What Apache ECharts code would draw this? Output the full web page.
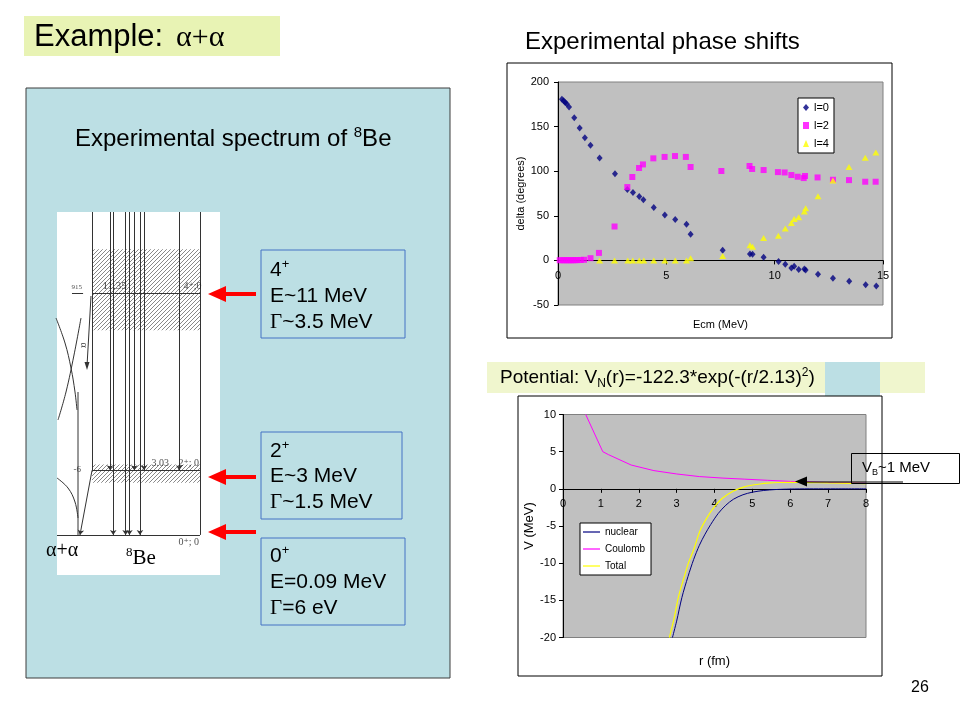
<!DOCTYPE html>
<html><head><meta charset="utf-8">
<script src="https://cdn.jsdelivr.net/npm/echarts@6/dist/echarts.min.js"></script>
<style>html,body{margin:0;padding:0;background:#fff}#c{width:960px;height:720px}</style>
</head><body><div id="c"></div>
<script>
// ---------------- DATA ----------------
// Experimental phase shifts (Ecm in MeV, delta in degrees)
const phaseXTicks = [0, 5, 10, 15];
const phaseYTicks = [-50, 0, 50, 100, 150, 200];
const phaseL0 = [[0.18,180.7],[0.26,179],[0.33,177],[0.40,175.5],[0.51,172],[0.75,160],[1.0,148.5],[1.24,137.6],[1.5,129],[1.92,114.8],[2.63,97.2],[3.2,79.5],[3.46,76],[3.75,71.7],[3.94,68],[4.42,59.3],[4.93,51],[5.41,45.8],[5.93,40.6],[6.12,29.4],[7.6,11.5],[8.86,7.3],[8.98,7],[9.49,3.6],[10.18,-1.3],[10.49,-4.3],[10.77,-8.4],[10.9,-6.6],[11.11,-10.3],[11.37,-9.6],[11.43,-10.7],[12.0,-15.5],[12.69,-20],[13.44,-23.4],[14.2,-27.2],[14.69,-28.7]];
const phaseL2 = [[0.08,0.2],[0.2,0.2],[0.3,0.2],[0.4,0.2],[0.5,0.2],[0.6,0.2],[0.7,0.2],[0.8,0.3],[0.9,0.3],[1.05,0.5],[1.2,0.7],[1.5,2.5],[1.89,8.4],[2.61,38],[3.2,82.2],[3.43,93.5],[3.74,103.6],[3.92,107.6],[4.4,114.4],[4.92,116],[5.4,117],[5.9,116],[6.12,104.7],[7.54,100.2],[8.84,105.8],[8.96,102.5],[9.49,101.3],[10.15,99],[10.46,98.6],[10.77,95.7],[11.06,93.8],[11.34,92.3],[11.4,94.6],[11.98,93],[12.69,90.4],[13.43,90],[14.18,88.2],[14.66,88.2]];
const phaseL4 = [[1.92,0],[2.61,0],[3.22,0],[3.45,0],[3.75,0],[3.96,0],[4.42,0],[4.93,0],[5.41,0],[5.93,0],[6.12,2.5],[7.6,5],[8.86,17],[8.98,15.2],[9.49,25],[10.17,27.5],[10.49,35.7],[10.77,41.8],[10.9,46.3],[11.11,48.5],[11.37,54.8],[11.43,58.6],[12.0,72],[12.69,89.7],[13.43,104.7],[14.18,115],[14.67,121]];

// Potential (r in fm, V in MeV)
const potXTicks = [0, 1, 2, 3, 4, 5, 6, 7, 8];
const potYTicks = [-20, -15, -10, -5, 0, 5, 10];
const potNuclear = [[2.89,-20],[3.0,-17.8],[3.14,-14.6],[3.3,-11.8],[3.45,-9.5],[3.6,-7.6],[3.75,-6.1],[3.9,-4.8],[4.1,-3.3],[4.3,-2.2],[4.5,-1.4],[4.75,-0.8],[5.0,-0.45],[5.3,-0.22],[5.6,-0.1],[6.0,-0.03],[6.5,0],[7.0,0],[8.0,0]];
const potCoulomb = [[0.6,10],[1.05,5.0],[1.2,4.6],[1.8,3.2],[2.4,2.45],[3.0,2.0],[3.6,1.65],[4.2,1.45],[4.8,1.3],[5.4,1.15],[6.0,1.0],[7.0,0.85],[8.0,0.75]];
const potTotal = [[2.81,-20],[2.93,-17.5],[3.05,-14.5],[3.18,-12.2],[3.31,-10],[3.45,-8.2],[3.62,-5.6],[3.8,-3.9],[3.97,-2.6],[4.2,-1.3],[4.5,-0.3],[4.75,0.2],[4.94,0.45],[5.2,0.65],[5.4,0.76],[5.7,0.85],[6.0,0.88],[6.5,0.84],[7.0,0.79],[7.6,0.74],[8.0,0.7]];

// 8Be level scheme (energies in MeV; horizontal positions are schematic units 0..100)
const levelEnergies = [0, 3.03, 11.35];
const levelSpins = ['0\u207A; 0', '2\u207A; 0', '4\u207A;0'];
const levelStartU = [0, 21.5, 21.5];
const levelEndU = 87.7;
const hatchBands = [[21.5, 9.6, 87.7, 13.4], [21.5, 2.45, 87.7, 3.3]];
const transToGroundU = [34.5, 42.1, 44.4, 50.9];
const transToFirstU = [32.5, 47.4, 53.4, 75.0];
const schemeTopE = 15.15;

// ---------------- STYLE ----------------
const FONT = "'Liberation Sans', Arial, sans-serif";
const SERIF = "'Liberation Serif', 'DejaVu Serif', 'Times New Roman', serif";
const PANEL = '#BCDFE4';

// hatch pattern
const hc = document.createElement('canvas');
hc.width = 4; hc.height = 4;
(function(){ const g = hc.getContext('2d'); g.strokeStyle = '#555'; g.lineWidth = 0.7;
  g.beginPath(); g.moveTo(-1,5); g.lineTo(5,-1); g.moveTo(-1,1); g.lineTo(1,-1); g.moveTo(3,5); g.lineTo(5,3); g.stroke(); })();
const hatch = { image: hc, repeat: 'repeat' };

// graphic helpers
function rect(x,y,w,h,fill,stroke,lw,z){ return {type:'rect', silent:true, z:z, shape:{x:x,y:y,width:w,height:h}, style:{fill:fill, stroke:stroke||null, lineWidth:lw||1}}; }
function text(x,y,t,size,opts){ const st = Object.assign({text:t, fill:'#000', fontSize:size, fontFamily:FONT, align:'left', textAlign:'left', verticalAlign:'middle', textVerticalAlign:'middle'}, opts||{}); return {type:'text', silent:true, z:(opts&&opts.zz)||10, x:x, y:y, style:st}; }
function rich(x,y,t,richObj,z){ return {type:'text', silent:true, z:z||10, x:x, y:y, style:{text:t, rich:richObj, fill:'#000', align:'left', textAlign:'left', verticalAlign:'middle', textVerticalAlign:'middle'}}; }
function line(x1,y1,x2,y2,color,w,z){ return {type:'line', silent:true, z:z||10, shape:{x1:x1,y1:y1,x2:x2,y2:y2}, style:{stroke:color, lineWidth:w||1}}; }
function poly(points,fill,z){ return {type:'polygon', silent:true, z:z||10, shape:{points:points}, style:{fill:fill}}; }
function pline(points,color,w,z){ return {type:'polyline', silent:true, z:z||10, shape:{points:points, smooth:0.4}, style:{stroke:color, lineWidth:w||1, fill:null}}; }

const supRich = function(size){ return {
  n:{fontSize:size, fontFamily:FONT, lineHeight:size+4, fill:'#000'},
  s:{fontSize:Math.round(size*0.62), fontFamily:FONT, lineHeight:Math.round(size*0.62), verticalAlign:'top', fill:'#000'},
  b:{fontSize:Math.round(size*0.62), fontFamily:FONT, lineHeight:Math.round(size*0.62), verticalAlign:'bottom', fill:'#000'},
  g:{fontSize:size, fontFamily:SERIF, lineHeight:size+4, fill:'#000'}
};};

const redArrowsY = [294, 477, 532];
const boxes = [
  {x:261, y:250, w:144, h:88, lines:['{n|4}{s|+}', '{n|E~11 MeV}', '{g|\u0393}{n|~3.5 MeV}'], ly:[270,296,322]},
  {x:261, y:432, w:141, h:87, lines:['{n|2}{s|+}', '{n|E~3 MeV}', '{g|\u0393}{n|~1.5 MeV}'], ly:[451,476,502]},
  {x:261, y:538, w:144, h:87, lines:['{n|0}{s|+}', '{n|E=0.09 MeV}', '{g|\u0393}{n|=6 eV}'], ly:[556,582,608]}
];

const els = [];
// header
els.push(rect(24,16,256,40,'#E8F3B4',null,1,-1));
els.push(text(34,37,'Example:',31,{zz:10}));
els.push(text(176,38,'\u03B1+\u03B1',30,{fontFamily:SERIF}));
els.push(text(525,42,'Experimental phase shifts',24));
// left panel
els.push(rect(26,88,424,590,PANEL,'#3c3c3c',1,-1));
els.push(rich(75,139,'{n|Experimental spectrum of }{s|8}{n|Be}',supRich(24)));
boxes.forEach(function(b){
  els.push(rect(b.x,b.y,b.w,b.h,PANEL,'#4472C4',1,5));
  b.lines.forEach(function(l,i){ els.push(rich(270,b.ly[i],l,supRich(21),10)); });
});
redArrowsY.forEach(function(y){
  els.push(line(222,y,256,y,'#FF0000',4,20));
  els.push(poly([[208,y],[226,y-8],[226,y+8]],'#FF0000',20));
});
// level scheme decorations (outside energy scale)
els.push(text(46,551,'\u03B1+\u03B1',20,{fontFamily:SERIF, zz:30}));
els.push(rich(126,558,'{s|8}{n|Be}',{n:{fontSize:21,fontFamily:SERIF,lineHeight:24,fill:'#000'}, s:{fontSize:13,fontFamily:SERIF,lineHeight:13,verticalAlign:'top',fill:'#000'}},30));
els.push({type:'text', silent:true, z:30, x:84, y:345, rotation:-Math.PI/2, style:{text:'\u03B1', fontSize:10, fontFamily:SERIF, fill:'#333', align:'center', textAlign:'center', verticalAlign:'middle', textVerticalAlign:'middle'}});
els.push(line(91,296,87,366,'#333',1,30));
els.push(poly([[87,370],[84.5,362],[89.5,362]],'#333',30));
els.push(pline([[56,318],[65,343],[71,368],[75,392],[77,410]],'#333',1,30));
els.push(pline([[81,318],[74,355],[66,392],[58,420]],'#333',1,30));
els.push(pline([[57,478],[68,488],[75,502],[78,518]],'#333',1,30));
els.push(line(78,392,78,535,'#333',1,30));
// phase-shift chart frame
els.push(rect(507,63,385,275,'#fff','#000',1,-1));
// potential header bar
els.push(rect(487,362,438,31,'#F0F6CE',null,1,-1));
els.push(rect(825,362,55,34,PANEL,null,1,-1));
els.push(rich(500,378,'{n|Potential: V}{b|N}{n|(r)=-122.3*exp(-(r/2.13)}{s|2}{n|)}',supRich(19)));
// potential chart frame
els.push(rect(518,396,364,280,'#fff','#000',1,-1));
// VB annotation
els.push(rect(851.5,453.5,108,30,null,'#000',1,100));
els.push(rich(862,468,'{n|V}{b|B}{n|~1 MeV}',supRich(15),100));
els.push(line(903,482,803,482,'#000',1,100));
els.push(poly([[795,481.5],[807,476.5],[807,486.5]],'#000',100));
// page number
els.push(text(911,688,'26',16));

// ---------------- CHART ----------------
const PH_H = 223, POT_H = 223;
// x axes sit on the y = 0 line: shift them up by the pixel height of the negative part of the y range
function zeroShift(yTicks, h){ const lo = yTicks[0], hi = yTicks[yTicks.length-1]; return -h * (0 - lo) / (hi - lo); }

const axisText = {color:'#000', fontSize:11, fontFamily:FONT};
function valAxis(grid, ticks, extra){
  return Object.assign({type:'value', gridIndex:grid, min:ticks[0], max:ticks[ticks.length-1], interval:ticks[1]-ticks[0],
    axisLine:{show:true, onZero:false, lineStyle:{color:'#000', width:1}},
    axisTick:{show:true, length:4, lineStyle:{color:'#000'}},
    splitLine:{show:false}, axisLabel:Object.assign({}, axisText)}, extra||{});
}

const option = {
  animation:false,
  backgroundColor:'#fff',
  textStyle:{fontFamily:FONT},
  grid:[
    {left:558, top:82, width:325, height:PH_H, show:true, backgroundColor:'#C0C0C0', borderColor:'#808080', borderWidth:1, outerBoundsMode:'none', containLabel:false},
    {left:563, top:414.5, width:303, height:POT_H, show:true, backgroundColor:'#C0C0C0', borderColor:'#808080', borderWidth:1, outerBoundsMode:'none', containLabel:false},
    {left:57, top:212, width:163, height:363, show:true, backgroundColor:'#fff', borderWidth:0, outerBoundsMode:'none', containLabel:false}
  ],
  xAxis:[
    valAxis(0, phaseXTicks, {position:'bottom', offset:zeroShift(phaseYTicks, PH_H), axisLabel:Object.assign({}, axisText, {margin:10}), name:'Ecm (MeV)', nameLocation:'middle', nameGap:59, nameTextStyle:{color:'#000', fontSize:11, fontFamily:FONT}}),
    valAxis(1, potXTicks, {position:'bottom', offset:zeroShift(potYTicks, POT_H), axisLabel:Object.assign({}, axisText, {margin:10}), name:'r (fm)', nameLocation:'middle', nameGap:166, nameTextStyle:{color:'#000', fontSize:13, fontFamily:FONT}}),
    {type:'value', gridIndex:2, min:0, max:100, show:false}
  ],
  yAxis:[
    valAxis(0, phaseYTicks, {axisLabel:Object.assign({}, axisText, {margin:9}), name:'delta (degrees)', nameLocation:'middle', nameGap:32, nameTextStyle:{color:'#000', fontSize:11, fontFamily:FONT}}),
    valAxis(1, potYTicks, {axisLabel:Object.assign({}, axisText, {margin:7}), name:'V (MeV)', nameLocation:'middle', nameGap:27, nameTextStyle:{color:'#000', fontSize:13, fontFamily:FONT}}),
    {type:'value', gridIndex:2, min:-1.88, max:15.15, show:false}
  ],
  legend:[
    {data:['l=0','l=2','l=4'], orient:'vertical', left:798, top:98, itemWidth:6, itemHeight:7, itemGap:7, padding:[4,5,4,5],
      backgroundColor:'#fff', borderColor:'#000', borderWidth:1, borderRadius:0, selectedMode:false, textStyle:{fontSize:11, color:'#000', fontFamily:FONT}},
    {data:[{name:'nuclear', icon:'rect'},{name:'Coulomb', icon:'rect'},{name:'Total', icon:'rect'}], orient:'vertical', left:580, top:523, itemWidth:17, itemHeight:1.2, itemGap:7, padding:[4,6,4,3],
      backgroundColor:'#fff', borderColor:'#000', borderWidth:1, borderRadius:0, selectedMode:false, textStyle:{fontSize:10, color:'#000', fontFamily:FONT}}
  ],
  series:[
    {name:'l=0', type:'scatter', xAxisIndex:0, yAxisIndex:0, data:phaseL0, symbol:'diamond', symbolSize:[6,7], itemStyle:{color:'#000080'}},
    {name:'l=2', type:'scatter', xAxisIndex:0, yAxisIndex:0, data:phaseL2, symbol:'rect', symbolSize:6, itemStyle:{color:'#FF00FF'}},
    {name:'l=4', type:'scatter', xAxisIndex:0, yAxisIndex:0, data:phaseL4, symbol:'triangle', symbolSize:[7,6], itemStyle:{color:'#FFFF00'}},
    {name:'nuclear', type:'line', xAxisIndex:1, yAxisIndex:1, data:potNuclear, symbol:'none', smooth:0.3, lineStyle:{color:'#000080', width:1}, itemStyle:{color:'#000080'}},
    {name:'Coulomb', type:'line', xAxisIndex:1, yAxisIndex:1, data:potCoulomb, symbol:'none', lineStyle:{color:'#FF00FF', width:1}, itemStyle:{color:'#FF00FF'}},
    {name:'Total', type:'line', xAxisIndex:1, yAxisIndex:1, data:potTotal, symbol:'none', smooth:0.3, lineStyle:{color:'#FFFF00', width:1.2}, itemStyle:{color:'#FFFF00'}},
    // level scheme
    {type:'line', xAxisIndex:2, yAxisIndex:2, data:[], silent:true,
      markArea:{silent:true, itemStyle:{color:hatch, borderWidth:0}, label:{show:false},
        data:hatchBands.map(function(b){ return [{xAxis:b[0], yAxis:b[1]}, {xAxis:b[2], yAxis:b[3]}]; })}},
    {type:'lines', coordinateSystem:'cartesian2d', xAxisIndex:2, yAxisIndex:2, silent:true, z:3,
      lineStyle:{color:'#333', width:1, opacity:1},
      data: levelEnergies.map(function(e,i){ return {coords:[[levelStartU[i], e],[levelEndU, e]]}; })
        .concat([{coords:[[9.2, levelEnergies[2]],[16, levelEnergies[2]]]},
                 {coords:[[levelEndU, schemeTopE],[levelEndU, 0]]},
                 {coords:[[levelStartU[1], schemeTopE],[levelStartU[1], levelEnergies[1]]]}])},
    {type:'lines', coordinateSystem:'cartesian2d', xAxisIndex:2, yAxisIndex:2, silent:true, z:3,
      symbol:['none','arrow'], symbolSize:5, lineStyle:{color:'#333', width:1, opacity:1},
      data: transToGroundU.map(function(u){ return {coords:[[u, schemeTopE],[u, levelEnergies[0]]]}; })
        .concat(transToFirstU.map(function(u){ return {coords:[[u, schemeTopE],[u, levelEnergies[1]]]}; }))
        .concat([{coords:[[levelStartU[1], levelEnergies[1]],[14.1, levelEnergies[0]]]}])},
    {type:'scatter', xAxisIndex:2, yAxisIndex:2, silent:true, symbolSize:1, itemStyle:{color:'rgba(0,0,0,0)'}, z:4,
      label:{show:true, formatter:'{b}', color:'#222', fontFamily:SERIF, fontSize:10},
      data:[
        {name:'915', value:[9.2, levelEnergies[2]], label:{position:[0,-9], fontSize:7}},
        {name:'11.35', value:[28.2, levelEnergies[2]], label:{position:[0,-12], fontSize:11}},
        {name:levelSpins[2], value:[77.9, levelEnergies[2]], label:{position:[0,-11], fontSize:10}},
        {name:'-6', value:[10.4, levelEnergies[1]], label:{position:[0,-5], fontSize:9}},
        {name:'3.03', value:[58.3, levelEnergies[1]], label:{position:[0,-11], fontSize:10}},
        {name:levelSpins[1], value:[74.8, levelEnergies[1]], label:{position:[0,-11], fontSize:10}},
        {name:levelSpins[0], value:[74.8, levelEnergies[0]], label:{position:[0,3], fontSize:10}}
      ]}
  ],
  graphic:{elements:els}
};

const chart = echarts.init(document.getElementById('c'), null, {renderer:'canvas'});
chart.setOption(option);
</script>
</body></html>
